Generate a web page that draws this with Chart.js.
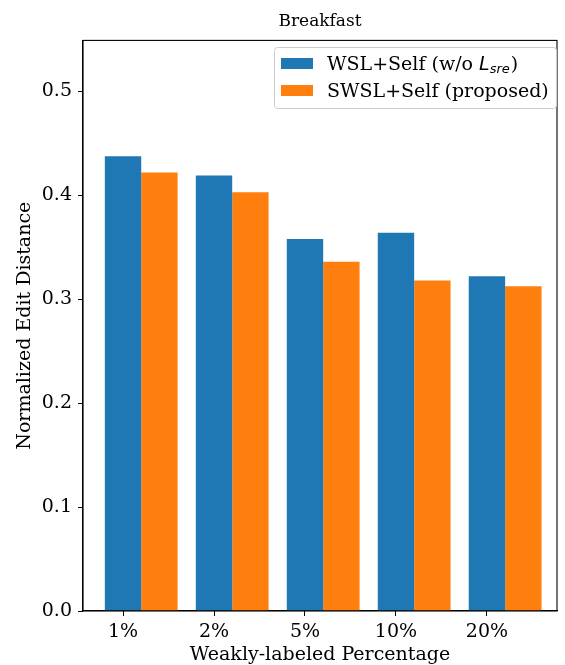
<!DOCTYPE html>
<html>
<head>
<meta charset="utf-8">
<script src="https://cdn.jsdelivr.net/npm/chart.js@4"></script>
<style>
  html, body { margin: 0; padding: 0; background: #fff; }
  #wrap { width: 565px; height: 665px; }
</style>
</head>
<body>
<div id="wrap"><canvas id="chart" width="565" height="665"></canvas></div>
<script>
// ===================== Data =====================
const categories = ['1%', '2%', '5%', '10%', '20%'];
const wslSelf = [0.4375, 0.419, 0.358, 0.364, 0.322];
const swslSelf = [0.422, 0.403, 0.336, 0.318, 0.3125];
const yTicks = [0.0, 0.1, 0.2, 0.3, 0.4, 0.5];

const BLUE = '#1f77b4';
const ORANGE = '#ff7f0e';
const FONT = "'DejaVu Serif', serif";
const MATH = "'DejaVu Sans', sans-serif";

// bars are grouped around i + 0.2 so the first bar of each pair sits on the tick
const toPoints = arr => arr.map((v, i) => ({ x: i + 0.2, y: v }));

// ===================== Frame + legend plugin =====================
const framePlugin = {
    id: 'frame',
    afterDraw(chart) {
        const { ctx, chartArea: a } = chart;
        ctx.save();
        ctx.strokeStyle = '#000';
        ctx.lineWidth = 1.1;
        ctx.strokeRect(a.left, a.top, a.right - a.left, a.bottom - a.top);

        // legend box in upper right corner
        const bx = 274, by = 47, bw = a.right - 1 - 274, bh = 61;
        ctx.fillStyle = 'rgba(255,255,255,0.8)';
        ctx.strokeStyle = '#cccccc';
        ctx.lineWidth = 1;
        ctx.beginPath();
        ctx.roundRect(bx + 0.5, by + 0.5, bw, bh, 3);
        ctx.fill();
        ctx.stroke();

        ctx.fillStyle = BLUE;
        ctx.fillRect(281, 58, 32, 11);
        ctx.fillStyle = ORANGE;
        ctx.fillRect(281, 85, 32, 11);

        ctx.fillStyle = '#000';
        ctx.textBaseline = 'alphabetic';
        ctx.textAlign = 'left';
        let x = 327;
        const y1 = 70, y2 = 97;
        ctx.font = '19px ' + FONT;
        const p1 = 'WSL+Self (w/o ';
        ctx.fillText(p1, x, y1);
        x += ctx.measureText(p1).width;
        ctx.font = 'italic 19px ' + MATH;
        ctx.fillText('L', x, y1);
        x += ctx.measureText('L').width;
        ctx.font = 'italic 13px ' + MATH;
        ctx.fillText('sre', x, y1 + 3);
        x += ctx.measureText('sre').width + 1;
        ctx.font = '19px ' + FONT;
        ctx.fillText(')', x, y1);

        ctx.fillText('SWSL+Self (proposed)', 327, y2);
        ctx.restore();
    }
};

// ===================== Chart =====================
const ctx = document.getElementById('chart').getContext('2d');
new Chart(ctx, {
    type: 'bar',
    data: {
        datasets: [
            {
                label: 'WSL+Self (w/o Lsre)',
                data: toPoints(wslSelf),
                backgroundColor: BLUE,
                borderWidth: 0,
                categoryPercentage: 0.8,
                barPercentage: 1.0
            },
            {
                label: 'SWSL+Self (proposed)',
                data: toPoints(swslSelf),
                backgroundColor: ORANGE,
                borderWidth: 0,
                categoryPercentage: 0.8,
                barPercentage: 1.0
            }
        ]
    },
    options: {
        responsive: false,
        animation: false,
        layout: { padding: { left: 0, right: 8, top: 0, bottom: 0 } },
        plugins: {
            legend: { display: false },
            tooltip: { enabled: false },
            title: {
                display: true,
                text: 'Breakfast',
                fullSize: false,
                color: '#000',
                font: { family: FONT, size: 17, weight: 'normal' },
                padding: { top: 11, bottom: 9 }
            }
        },
        scales: {
            x: {
                type: 'linear',
                min: -0.44,
                max: 4.77,
                offset: false,
                afterFit: s => { s.height = 54; },
                afterBuildTicks: s => { s.ticks = categories.map((c, i) => ({ value: i })); },
                grid: { display: true, offset: false, drawOnChartArea: false, drawTicks: true, tickLength: 5, color: '#000', lineWidth: 1 },
                border: { display: true, color: '#000', width: 1.1 },
                ticks: {
                    autoSkip: false,
                    maxRotation: 0,
                    padding: 5,
                    color: '#000',
                    font: { family: FONT, size: 19 },
                    callback: v => categories[v] ?? ''
                },
                title: {
                    display: true,
                    text: 'Weakly-labeled Percentage',
                    color: '#000',
                    font: { family: FONT, size: 19, lineHeight: 1.0 },
                    padding: { top: 0, bottom: 0 }
                }
            },
            y: {
                min: 0,
                max: 0.549,
                afterFit: s => { s.width = 83; },
                afterBuildTicks: s => { s.ticks = yTicks.map(v => ({ value: v })); },
                grid: { display: true, offset: false, drawOnChartArea: false, drawTicks: true, tickLength: 5, color: '#000', lineWidth: 1 },
                border: { display: true, color: '#000', width: 1.1 },
                ticks: {
                    padding: 6,
                    color: '#000',
                    font: { family: FONT, size: 19 },
                    callback: v => Number(v).toFixed(1)
                },
                title: {
                    display: true,
                    text: 'Normalized Edit Distance',
                    color: '#000',
                    font: { family: FONT, size: 19 },
                    padding: { top: 14, bottom: 0 }
                }
            }
        }
    },
    plugins: [framePlugin]
});
</script>
</body>
</html>
